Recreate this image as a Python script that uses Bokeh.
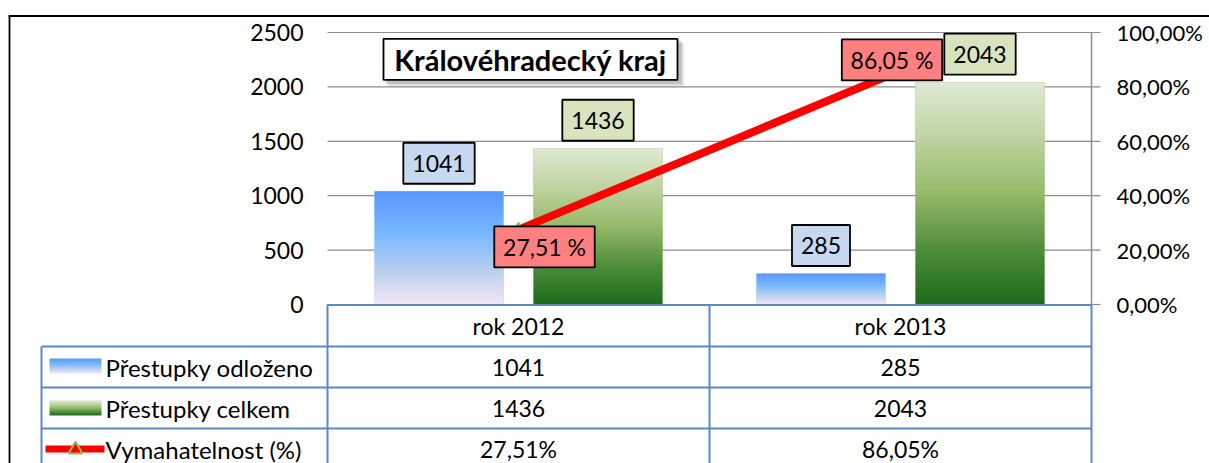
import numpy as np
from bokeh.plotting import figure
from bokeh.models import Range1d
from bokeh.embed import file_html
from bokeh.resources import INLINE
from bokeh.core.properties import value

# ---------------- data ----------------
categories = ["rok 2012", "rok 2013"]
prestupky_odlozeno = [1041, 285]
prestupky_celkem = [1436, 2043]
vymahatelnost = [27.51, 86.05]
left_ticks = [0, 500, 1000, 1500, 2000, 2500]
right_ticks = [0, 20, 40, 60, 80, 100]
series_names = ["Přestupky odloženo", "Přestupky celkem", "Vymahatelnost (%)"]
chart_title = "Královéhradecký kraj"


def cz(v, nd=2):
    return f"{v:.{nd}f}".replace(".", ",")


# ---------------- layout (page pixels) ----------------
W, H = 1209, 463
OX, OY = 0, 0
PX0, PX1 = 327, 1091          # plot area left/right
PYB, PYT = 304, 32            # plot area bottom/top
ROWS = [304, 346, 387, 428, 469]
LEG_X0 = 41
FONT = value("Lato")
FSZ = 23
FS = f"{FSZ}px"
BLACK = "#000000"
GRID = "#8C8C8C"
TBL = "#5A8AC6"

n = len(categories)
cat_px = (PX1 - PX0) / n
cnt_px = (PYB - PYT) / left_ticks[-1]
pct_px = (PYB - PYT) / right_ticks[-1]


def ux(X):
    return (X - PX0) / cat_px


def uy(Y):
    return (PYB - Y) / cnt_px


def up(Y):
    return (PYB - Y) / pct_px


def dx(px):
    return px / cat_px


def dy(px):
    return px / cnt_px


def dp(px):
    return px / pct_px


ADV = {",": 0.25, " ": 0.193, "%": 0.82}


def text_w(s, size=FSZ):
    return sum(ADV.get(c, 0.58) for c in s) * size


def grad_img(stops, rows=256):
    t = np.linspace(0, 1, rows)
    pos = [s[0] for s in stops]
    cols = np.array([s[1] for s in stops], dtype=float)
    img = np.empty((rows, 2), dtype=np.uint32)
    view = img.view(dtype=np.uint8).reshape((rows, 2, 4))
    for c in range(3):
        view[:, :, c] = np.interp(t, pos, cols[:, c])[:, None]
    view[:, :, 3] = 255
    return img


blue_stops = [(0.0, (244, 232, 247)), (0.3, (185, 208, 240)), (0.6, (124, 186, 255)), (1.0, (88, 152, 255))]
green_stops = [(0.0, (28, 108, 28)), (0.25, (80, 142, 60)), (0.5, (150, 186, 105)), (0.75, (192, 212, 162)), (1.0, (223, 235, 212))]
blue_img = grad_img(blue_stops)
green_img = grad_img(green_stops)

p = figure(width=W, height=H,
           x_range=Range1d(ux(OX), ux(OX + W)),
           y_range=Range1d(uy(OY + H), uy(OY)),
           x_axis_type=None, y_axis_type=None,
           toolbar_location=None, output_backend="svg",
           min_border=0, outline_line_color=None, title=None,
           background_fill_color="white", border_fill_color="white")
p.extra_y_ranges = {"pct": Range1d(up(OY + H), up(OY))}

# outer frame
p.segment(x0=[ux(8), ux(9)], y0=[uy(15.5), uy(15.5)],
          x1=[ux(OX + W), ux(9)], y1=[uy(15.5), uy(OY + H)],
          line_color=BLACK, line_width=1.8)

# gridlines
p.segment(x0=[ux(PX0)] * len(left_ticks), y0=left_ticks,
          x1=[ux(PX1)] * len(left_ticks), y1=left_ticks,
          line_color=GRID, line_width=1.2)
# right axis line and ticks
p.segment(x0=[ux(PX1)], y0=[0], x1=[ux(PX1)], y1=[left_ticks[-1]], line_color=GRID, line_width=1.5)
p.segment(x0=[ux(PX1)] * len(right_ticks), y0=right_ticks,
          x1=[ux(PX1 + 9)] * len(right_ticks), y1=right_ticks,
          y_range_name="pct", line_color=GRID, line_width=1.2)

# axis tick labels
p.text(x=[ux(303)] * len(left_ticks), y=left_ticks, text=[str(t) for t in left_ticks],
       text_font=FONT, text_font_size=FS, text_align="right", text_baseline="middle", text_color=BLACK)
p.text(x=[ux(1116)] * len(right_ticks), y=right_ticks, text=[cz(t) + "%" for t in right_ticks],
       y_range_name="pct", text_font=FONT, text_font_size="22px", text_align="left",
       text_baseline="middle", text_color=BLACK)

# bars
xc = np.arange(n) + 0.5
off = dx(79.5)
bw = dx(129)
xb = xc - off
xg = xc + off
p.vbar(x=xb, top=prestupky_odlozeno, bottom=0, width=bw, fill_color="#9DC3F8", line_color=None)
p.vbar(x=xg, top=prestupky_celkem, bottom=0, width=bw, fill_color="#8AB068", line_color=None)
p.image_rgba(image=[blue_img] * n, x=list(xb - bw / 2), y=[0] * n, dw=[bw] * n, dh=prestupky_odlozeno)
p.image_rgba(image=[green_img] * n, x=list(xg - bw / 2), y=[0] * n, dw=[bw] * n, dh=prestupky_celkem)

# line
p.line(x=xc, y=vymahatelnost, y_range_name="pct", line_color="#FF0000", line_width=8)
p.scatter(x=xc, y=vymahatelnost, y_range_name="pct", marker="triangle", size=12,
          fill_color="#FF0000", line_color="#9BBB59", line_width=2)

# bar data labels
LBL_H = 41
for xs, vals, fill in ((xb, prestupky_odlozeno, "#C6D9F1"), (xg, prestupky_celkem, "#D7E4BD")):
    txt = [str(v) for v in vals]
    ys = [v + dy(28) for v in vals]
    p.rect(x=xs, y=ys, width=[text_w(t) + 18 for t in txt], height=LBL_H,
           width_units="screen", height_units="screen",
           fill_color=fill, line_color=BLACK, line_width=1.8)
    p.text(x=xs, y=ys, text=txt, text_font=FONT, text_font_size=FS,
           text_align="center", text_baseline="middle", text_color=BLACK)

# percentage labels (manually placed offsets in px: right, down)
pct_offsets = [(26, 17.3), (-8.5, -10.5)]
ptxt = [cz(v) + " %" for v in vymahatelnost]
px_ = [xc[i] + dx(pct_offsets[i][0]) for i in range(n)]
py_ = [vymahatelnost[i] - dp(pct_offsets[i][1]) for i in range(n)]
p.rect(x=px_, y=py_, width=[text_w(t) + 18 for t in ptxt], height=LBL_H,
       width_units="screen", height_units="screen", y_range_name="pct",
       fill_color="#FF8080", line_color=BLACK, line_width=1.8)
p.text(x=px_, y=py_, text=ptxt, y_range_name="pct", text_font=FONT, text_font_size=FS,
       text_align="center", text_baseline="middle", text_color=BLACK)

# title box with shadow
TX, TY, TW, TH = 530, 58.8, 294, 41
for k, a in ((6, 0.08), (4.5, 0.12), (3, 0.18)):
    p.rect(x=[ux(TX + k)], y=[uy(TY + k)], width=TW + 2, height=TH + 2,
           width_units="screen", height_units="screen",
           fill_color="#404040", fill_alpha=a, line_color=None)
p.rect(x=[ux(TX)], y=[uy(TY)], width=TW, height=TH, width_units="screen", height_units="screen",
       fill_color="white", line_color=BLACK, line_width=1.8)
p.text(x=[ux(TX)], y=[uy(TY)], text=[chart_title], text_font=FONT, text_font_size="29px",
       text_font_style="bold", text_align="center", text_baseline="middle", text_color=BLACK)

# data table
bounds = [ux(PX0 + i * cat_px) for i in range(n + 1)]
hx0 = [bounds[0]] + [ux(LEG_X0)] * 3
hx1 = [bounds[-1]] * 4
hy = [uy(ROWS[0] + 0.5)] + [uy(r) for r in ROWS[1:4]]
p.segment(x0=hx0, y0=hy, x1=hx1, y1=hy, line_color=TBL, line_width=2)
vx = bounds + [ux(LEG_X0)]
vy0 = [uy(ROWS[0])] * (n + 1) + [uy(ROWS[1])]
p.segment(x0=vx, y0=vy0, x1=vx, y1=[uy(OY + H)] * len(vx), line_color=TBL, line_width=2)

row_c = [(ROWS[i] + ROWS[i + 1]) / 2 for i in range(4)]
p.text(x=xc, y=[uy(row_c[0])] * n, text=categories, text_font=FONT, text_font_size=FS,
       text_align="center", text_baseline="middle", text_color=BLACK)
row_vals = [[str(v) for v in prestupky_odlozeno], [str(v) for v in prestupky_celkem],
            [cz(v) + "%" for v in vymahatelnost]]
for r, vals in enumerate(row_vals):
    p.text(x=xc, y=[uy(row_c[r + 1])] * n, text=vals, text_font=FONT, text_font_size=FS,
           text_align="center", text_baseline="middle", text_color=BLACK)

# legend keys
p.image_rgba(image=[blue_img], x=[ux(49)], y=[uy(373)], dw=[ux(101) - ux(49)], dh=[uy(358) - uy(373)])
p.image_rgba(image=[green_img], x=[ux(49)], y=[uy(415)], dw=[ux(101) - ux(49)], dh=[uy(400) - uy(415)])
p.segment(x0=[ux(45)], y0=[uy(448.5)], x1=[ux(104)], y1=[uy(448.5)], line_color="#FF0000", line_width=7)
p.scatter(x=[ux(75)], y=[uy(449)], marker="triangle", size=14, fill_color="#FF0000",
          line_color="#9BBB59", line_width=2)
p.text(x=[ux(105)] * 3, y=[uy(c) for c in row_c[1:]], text=series_names, text_font=FONT,
       text_font_size="24px", text_align="left", text_baseline="middle", text_color=BLACK)

open("out.html", "w").write(file_html(p, INLINE))
